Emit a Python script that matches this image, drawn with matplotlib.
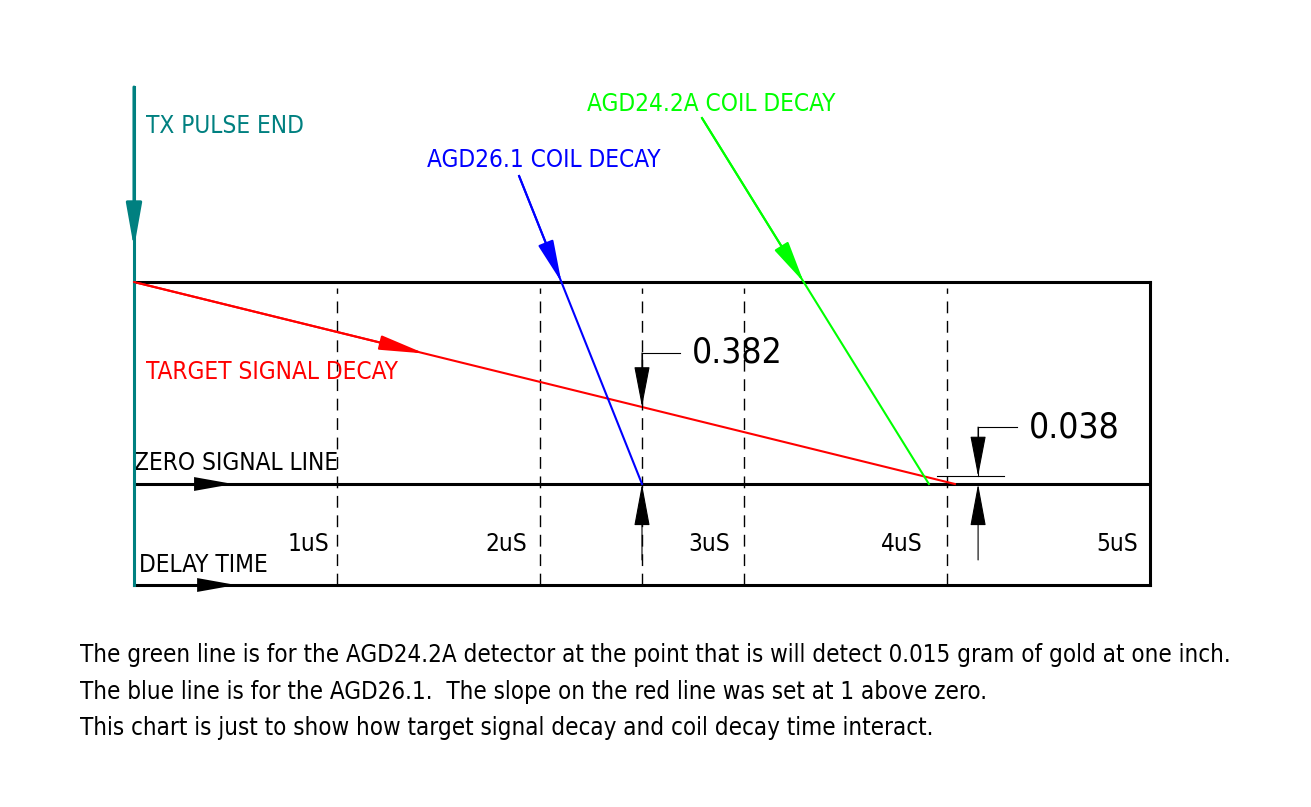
import matplotlib
matplotlib.use('Agg')
import matplotlib.pyplot as plt

# ---------------- data (time in uS, signal level relative to 1 at TX pulse end)
grid_t = [1.0, 2.0, 2.5, 3.0, 4.0]              # dashed delay-time markers
tick_labels = ['1uS', '2uS', '3uS', '4uS', '5uS']
tick_label_t = [0.86, 1.83, 2.83, 3.78, 4.84]

target_t = [0.0, 4.04]                            # target signal decay (red)
target_s = [1.0, 0.0]
agd261_t = [1.895, 2.50]                          # AGD26.1 coil decay (blue)
agd261_s = [1.525, 0.0]
agd242_t = [2.795, 3.912]                         # AGD24.2A coil decay (green)
agd242_s = [1.812, 0.0]
tx_t = [0.0, 0.0]                                 # TX pulse end marker (teal)
tx_s = [1.965, -0.5]

dim_values = ['0.382', '0.038']                   # measured residual signal
dim_level = [0.382, 0.038]
dim_t = [2.5, 4.154]

notes = [
    "The green line is for the AGD24.2A detector at the point that is will detect 0.015 gram of gold at one inch.",
    "The blue line is for the AGD26.1.  The slope on the red line was set at 1 above zero.",
    "This chart is just to show how target signal decay and coil decay time interact.",
]

RED = '#ff0000'
BLUE = '#0000ff'
GREEN = '#00ff00'
TEAL = '#008080'

plt.rcParams['font.family'] = ['DejaVu Sans']
plt.rcParams['font.stretch'] = 'condensed'

fig = plt.figure(figsize=(13.11, 8.07), dpi=100)
W, H = 1311, 807
ax = fig.add_axes([134 / W, (H - 585) / H, 1016 / W, 303 / H])
ax.set_xlim(0, 5)
ax.set_ylim(-0.5, 1.0)
ax.set_xticks([])
ax.set_yticks([])
for sp in ax.spines.values():
    sp.set_linewidth(2.2)
    sp.set_color('black')
ax.spines['left'].set_visible(False)

# dashed time markers
for t in grid_t:
    ax.plot([t, t], [-0.5, 0.97], color='black', lw=1.0,
            linestyle=(0, (8.5, 5.5)), zorder=1)

# zero signal line
ax.plot([0, 5], [0, 0], color='black', lw=2.2, zorder=2)


def head(tip, tail, color, length_pt, half_w_pt, lw=0.0):
    ax.annotate('', xy=tip, xytext=tail,
                arrowprops=dict(arrowstyle='-|>,head_length=%f,head_width=%f'
                                % (length_pt / 10.0, half_w_pt / 10.0),
                                mutation_scale=10, color=color, lw=lw,
                                shrinkA=0, shrinkB=0),
                annotation_clip=False, zorder=5)


def point_on(ts, ss, s):
    f = (s - ss[0]) / (ss[1] - ss[0])
    return ts[0] + f * (ts[1] - ts[0])


# teal TX pulse end line
ax.plot(tx_t, tx_s, color=TEAL, lw=2.2, clip_on=False, zorder=4)
head((0, 1.168), (0, 1.965), TEAL, 27, 4.8, lw=2.2)

# red target decay
ax.plot(target_t, target_s, color=RED, lw=1.5, zorder=3)
t_r = 1.43
s_r = target_s[0] + (target_s[1] - target_s[0]) * t_r / target_t[1]
head((t_r, s_r), (target_t[0], target_s[0]), RED, 28, 4.5, lw=1.5)

# blue coil decay
ax.plot(agd261_t, agd261_s, color=BLUE, lw=1.5, clip_on=False, zorder=3)
head((point_on(agd261_t, agd261_s, 1.0), 1.0), (agd261_t[0], agd261_s[0]),
     BLUE, 26, 5.0, lw=1.5)

# green coil decay
ax.plot(agd242_t, agd242_s, color=GREEN, lw=1.5, clip_on=False, zorder=3)
head((point_on(agd242_t, agd242_s, 1.0), 1.0), (agd242_t[0], agd242_s[0]),
     GREEN, 26, 5.0, lw=1.5)

# axis direction arrows
head((0.487, 0.0), (0.29, 0.0), 'black', 28, 5.0)
head((0.502, -0.5), (0.30, -0.5), 'black', 28, 5.0)

# dimension markers
for val, lvl, t in zip(dim_values, dim_level, dim_t):
    top = lvl + 0.267 if lvl > 0.1 else 0.282
    lead_end = t + (0.187 if lvl > 0.1 else 0.192)
    ax.plot([t, t, lead_end], [lvl, top, top], color='black', lw=0.8,
            clip_on=False, zorder=4)
    head((t, lvl), (t, top), 'black', 26, 5.0, lw=0.8)
    head((t, 0.0), (t, -0.376), 'black', 27, 5.0, lw=0.8)
    ax.text(lead_end + 0.058, top, val, fontsize=25.5, va='center',
            ha='left', color='black')

# short reference line for the 0.038 level
ax.plot([3.952, 4.28], [dim_level[1], dim_level[1]], color='black', lw=0.8,
        zorder=4)

# labels
fs = 17.5
ax.text(0.059, 1.772, 'TX PULSE END', color=TEAL, fontsize=fs, va='center',
        ha='left', clip_on=False)
ax.text(1.442, 1.604, 'AGD26.1 COIL DECAY', color=BLUE, fontsize=fs,
        va='center', ha='left', clip_on=False)
ax.text(2.229, 1.881, 'AGD24.2A COIL DECAY', color=GREEN, fontsize=fs,
        va='center', ha='left', clip_on=False)
ax.text(0.059, 0.554, 'TARGET SIGNAL DECAY', color=RED, fontsize=fs,
        va='center', ha='left')
ax.text(0.0, 0.104, 'ZERO SIGNAL LINE', color='black', fontsize=fs,
        va='center', ha='left')
ax.text(0.025, -0.40, 'DELAY TIME', color='black', fontsize=fs,
        va='center', ha='left')
for lab, t in zip(tick_labels, tick_label_t):
    ax.text(t, -0.297, lab, color='black', fontsize=fs, va='center',
            ha='center')

# notes under the chart
for i, line in enumerate(notes):
    fig.text(80 / W, 1 - (655 + 36.5 * i) / H, line, fontsize=17.3,
             va='center', ha='left', color='black')

fig.savefig('out.png', dpi=100)
